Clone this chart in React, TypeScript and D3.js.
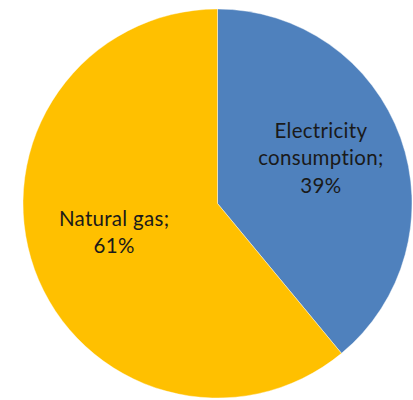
import React from "react";
import * as d3 from "d3";

const categories = ["Electricity consumption", "Natural gas"];
const values = [39, 61];
const colors = ["#4F81BD", "#FFC000"];
const labelLines = [["Electricity", "consumption;", "39%"], ["Natural gas;", "61%"]];

export default function App() {
  const width = 413;
  const height = 400;
  const cx = 217.5;
  const cy = 203.5;
  const r = 194.5;
  const pie = d3.pie<number>().sort(null).value((d) => d)(values);
  const arc = d3.arc<d3.PieArcDatum<number>>().innerRadius(0).outerRadius(r);
  const lr = r * 0.565;
  const labelArc = d3.arc<d3.PieArcDatum<number>>().innerRadius(lr).outerRadius(lr);
  const lh = 27.5;
  return (
    <svg width={width} height={height} style={{ position: "absolute", left: 0, top: 0 }}>
      <rect width={width} height={height} fill="#fff" />
      <g transform={`translate(${cx},${cy})`}>
        {pie.map((p, i) => (
          <path key={categories[i]} d={arc(p) || ""} fill={colors[i]} stroke="#ffffff" strokeOpacity={0.5} strokeWidth={0.8} />
        ))}
        {pie.map((p, i) => {
          const [x, y] = labelArc.centroid(p);
          const lines = labelLines[i];
          const y0 = y - ((lines.length - 1) * lh) / 2 - 1;
          return (
            <text key={i} textAnchor="middle" fontFamily="Lato, 'Noto Sans', sans-serif" fontSize={20.5} letterSpacing={0.3} fill="#1a1a1a">
              {lines.map((t, j) => (
                <tspan key={j} x={x} y={y0 + j * lh}>{t}</tspan>
              ))}
            </text>
          );
        })}
      </g>
    </svg>
  );
}
